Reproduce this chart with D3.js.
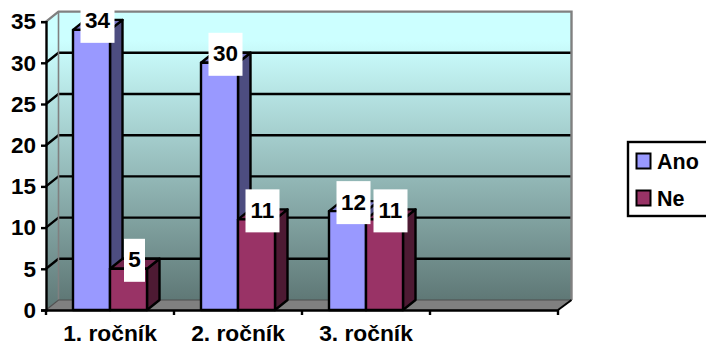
<!DOCTYPE html>
<html><head><meta charset="utf-8">
<script src="https://cdn.jsdelivr.net/npm/d3@7/dist/d3.min.js"></script>
<style>
html,body{margin:0;padding:0;background:#fff;overflow:hidden}
svg{display:block}
text{font-family:"Liberation Sans",Arial,sans-serif;font-weight:bold;fill:#000}
</style></head><body>
<svg id="chart" width="706" height="343"></svg>
<script>
const categories = ["1. ročník", "2. ročník", "3. ročník", ""];
const seriesNames = ["Ano", "Ne"];
const ano = [34, 30, 12];
const ne = [5, 11, 11];
const yTicks = [0, 5, 10, 15, 20, 25, 30, 35];
const seriesColors = {Ano: {front: "#9999ff", side: "#4d4d80", top: "#7373bf"},
                      Ne: {front: "#993366", side: "#4d1a33", top: "#73264d"}};
const seriesValues = {Ano: ano, Ne: ne};

const svg = d3.select("#chart");
const y = d3.scaleLinear().domain([0, 35]).range([310, 21.6]);
const x0 = d3.scaleBand().domain(categories).range([46, 558]);
const x1 = d3.scaleBand().domain(seriesNames).range([27, 101]);
const depth = {x: 12.5, y: -10};

// Backdrop gradient shared by the side and back walls
const grad = svg.append("defs").append("linearGradient")
  .attr("id", "wall").attr("x1", 0).attr("y1", 0).attr("x2", 0).attr("y2", 1);
grad.append("stop").attr("offset", "0").attr("stop-color", "#ccffff");
grad.append("stop").attr("offset", "0.1").attr("stop-color", "#ccffff");
grad.append("stop").attr("offset", "1").attr("stop-color", "#5f7876");

const L = x0.range()[0], R = x0.range()[1];
const bx = L + depth.x, tx = R + depth.x + 1;
const yTop = y(35) + depth.y, yBack = y(0) + depth.y;

svg.append("rect").attr("x", bx).attr("y", yTop).attr("width", tx - bx).attr("height", yBack - yTop)
  .attr("fill", "url(#wall)");
svg.append("path").attr("d", `M${L},${y(0)}L${bx},${yBack}L${bx},${yTop}L${L},${y(35)}Z`)
  .attr("fill", "url(#wall)");
// Floor
svg.append("path").attr("d", `M${L},${y(0)}L${bx},${yBack}L${tx},${yBack}L${R},${y(0)}Z`)
  .attr("fill", "#808080");

// Gridlines on the back wall and their slanted run across the side wall
const grid = svg.append("g");
yTicks.slice(1, -1).forEach(t => {
  grid.append("path").attr("d", `M${L},${y(t)}L${bx},${y(t) + depth.y}L${tx},${y(t) + depth.y}`)
    .attr("fill", "none").attr("stroke", "#000").attr("stroke-width", 2.4);
});
svg.append("path").attr("d", `M${L},${y(35)}L${bx},${yTop}L${tx},${yTop}L${tx},${yBack}`)
  .attr("fill", "none").attr("stroke", "#808080").attr("stroke-width", 2.4);
svg.append("path").attr("d", `M${bx},${yTop}L${bx},${yBack}`)
  .attr("fill", "none").attr("stroke", "#808080").attr("stroke-width", 1.6);
svg.append("path").attr("d", `M${L},${y(0)}L${bx},${yBack}L${tx},${yBack}`)
  .attr("fill", "none").attr("stroke", "#4f4f4f").attr("stroke-width", 1.2);
svg.append("line").attr("x1", tx).attr("y1", yBack).attr("x2", R).attr("y2", y(0))
  .attr("stroke", "#000").attr("stroke-width", 2);

// Extruded bars
const bars = [];
categories.slice(0, 3).forEach((c, i) => seriesNames.forEach(s => {
  bars.push({c, s, v: seriesValues[s][i]});
}));
const barG = svg.append("g").attr("stroke", "#000").attr("stroke-width", 2.4).attr("stroke-linejoin", "round");
bars.forEach(d => {
  const xa = x0(d.c) + x1(d.s), xb = xa + x1.bandwidth();
  const yt = y(d.v), yb = y(0);
  const col = seriesColors[d.s];
  barG.append("path").attr("fill", col.side)
    .attr("d", `M${xb},${yb}L${xb + depth.x},${yb + depth.y}L${xb + depth.x},${yt + depth.y}L${xb},${yt}Z`);
  barG.append("path").attr("fill", col.top)
    .attr("d", `M${xa},${yt}L${xa + depth.x},${yt + depth.y}L${xb + depth.x},${yt + depth.y}L${xb},${yt}Z`);
  barG.append("rect").attr("x", xa).attr("y", yt).attr("width", xb - xa).attr("height", yb - yt)
    .attr("fill", col.front);
});

// Axes
const yAxis = svg.append("g").attr("transform", `translate(${L},0)`)
  .call(d3.axisLeft(y).tickValues(yTicks).tickSize(5).tickPadding(5));
yAxis.selectAll("text").style("font-size", "22.5px");
const xAxis = svg.append("g").attr("transform", `translate(0,${y(0)})`)
  .call(d3.axisBottom(x0).tickSize(0).tickPadding(15));
xAxis.selectAll("text").style("font-size", "22.8px");
svg.selectAll(".domain").attr("stroke", "#000").attr("stroke-width", 2.4);
yAxis.selectAll(".tick line").attr("stroke", "#000").attr("stroke-width", 2.4);
categories.concat("end").forEach((c, i) => {
  const tickX = L + i * x0.step();
  svg.append("line").attr("x1", tickX).attr("x2", tickX).attr("y1", y(0)).attr("y2", y(0) + 5)
    .attr("stroke", "#000").attr("stroke-width", 2.4);
});

// Value labels on white plates
bars.forEach(d => {
  const cx = x0(d.c) + x1(d.s) + x1.bandwidth() / 2 + 6;
  const label = String(d.v);
  const w = label.length > 1 ? 34 : 21;
  const yt = y(d.v);
  svg.append("rect").attr("x", cx - w / 2).attr("y", yt - 30).attr("width", w).attr("height", 43).attr("fill", "#fff");
  svg.append("text").attr("x", cx).attr("y", yt - 1.5).attr("text-anchor", "middle").style("font-size", "22.5px").text(label);
});

// Legend
const legend = svg.append("g");
legend.append("rect").attr("x", 628).attr("y", 142).attr("width", 90).attr("height", 74)
  .attr("fill", "#fff").attr("stroke", "#000").attr("stroke-width", 2.4);
const legendY = d3.scalePoint().domain(seriesNames).range([161, 198]);
seriesNames.forEach(s => {
  legend.append("rect").attr("x", 636.5).attr("y", legendY(s) - 7.5).attr("width", 14).attr("height", 15)
    .attr("fill", seriesColors[s].front).attr("stroke", "#000").attr("stroke-width", 2);
  legend.append("text").attr("x", 657).attr("y", legendY(s) + 8).style("font-size", "21.5px").text(s);
});
</script>
</body></html>
